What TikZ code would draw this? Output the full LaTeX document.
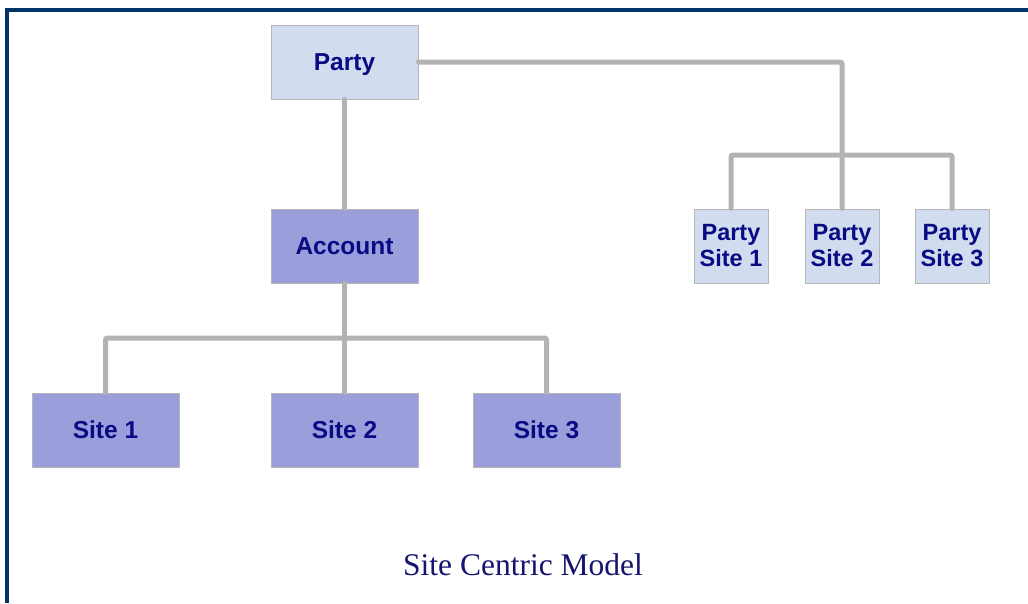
\documentclass[tikz,border=0pt]{standalone}
\usepackage{fontspec}
\setmainfont{Liberation Serif}
\newfontfamily\boxfont{Liberation Sans}
\definecolor{framenavy}{HTML}{003366}
\definecolor{textnavy}{HTML}{0A0A85}
\definecolor{titlenavy}{HTML}{14146E}
\definecolor{lightfill}{HTML}{D1DCEE}
\definecolor{darkfill}{HTML}{9A9EDB}
\definecolor{edgegray}{HTML}{B6B6B6}
\definecolor{linkgray}{HTML}{B3B3B3}
\begin{document}
\begin{tikzpicture}[x=1pt,y=-1pt,
  entity/.style={draw=edgegray, line width=1pt, minimum width=147pt, minimum height=74pt,
    inner sep=0pt, align=center, text=textnavy,
    font=\boxfont\bfseries\fontsize{24.5}{26}\selectfont},
  lightbox/.style={entity, fill=lightfill},
  darkbox/.style={entity, fill=darkfill},
  sitebox/.style={lightbox, minimum width=74pt, font=\boxfont\bfseries\fontsize{23.5}{26}\selectfont},
  link/.style={draw=linkgray, line width=5pt, line cap=round, rounded corners=2pt}]
\useasboundingbox (0,0) rectangle (1028,603);
% frame: top and left rules
\fill[framenavy] (5,8) rectangle (1028,12);
\fill[framenavy] (5,8) rectangle (9,603);

% entities
\node[lightbox, text depth=0pt] (party) at (344.5,62) {Party};
\node[darkbox] (acc) at (344.5,246) {Account};
\node[darkbox] (s1) at (105.5,430) {Site 1};
\node[darkbox] (s2) at (344.5,430) {Site 2};
\node[darkbox] (s3) at (546.5,430) {Site 3};
\node[sitebox] (ps1) at (731,246) {Party\\Site 1};
\node[sitebox] (ps2) at (842,246) {Party\\Site 2};
\node[sitebox] (ps3) at (952,246) {Party\\Site 3};

% bus junctions
\coordinate (abus) at (344.5,338);
\coordinate (pbus) at (842,155);

% connectors
\draw[link] (party.south) -- (acc.north);
\draw[link] (acc.south) -- (s2.north);
\draw[link] (s1.north) |- (abus) -| (s3.north);
\draw[link] (party.east) -| (ps2.north);
\draw[link] (ps1.north) |- (pbus) -| (ps3.north);

% caption
\node[text=titlenavy, font=\fontsize{31.5}{36}\selectfont, inner sep=0pt] (cap) at (523,565) {Site Centric Model};
\end{tikzpicture}
\end{document}
